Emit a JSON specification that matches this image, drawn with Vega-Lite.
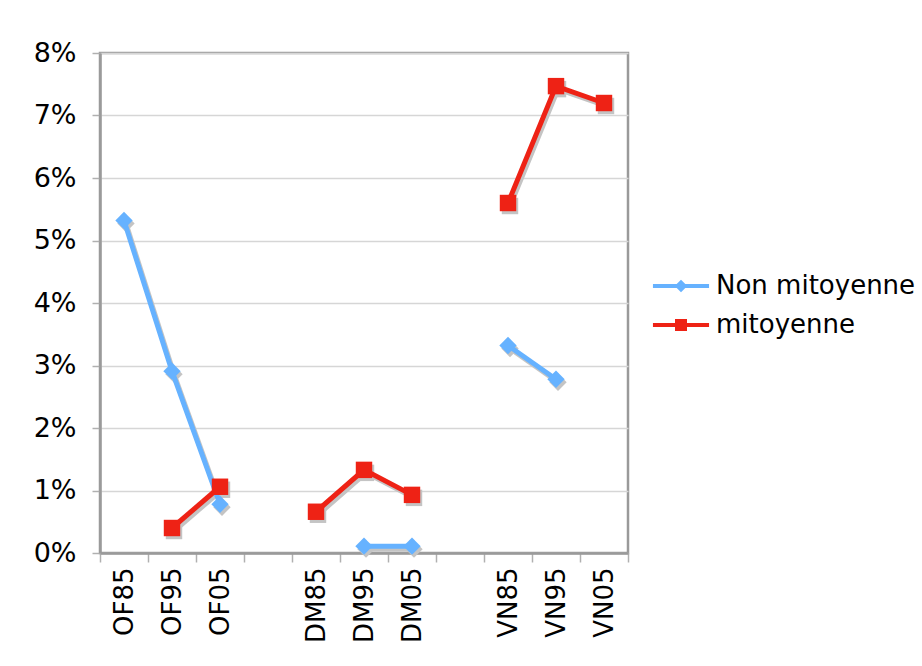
{
  "$schema": "https://vega.github.io/schema/vega-lite/v6.json",
  "width": 528,
  "height": 500,
  "autosize": {"type": "none"},
  "padding": {"left": 100, "top": 53, "right": 294, "bottom": 113},
  "background": "white",
  "config": {
    "font": "DejaVu Sans",
    "view": {"stroke": "#9a9a9a", "strokeWidth": 2.5}
  },
  "data": {
    "values": [
      {"cat": "OF85", "grp": "OF", "series": "Non mitoyenne", "value": 0.0532},
      {"cat": "OF95", "grp": "OF", "series": "Non mitoyenne", "value": 0.0291},
      {"cat": "OF05", "grp": "OF", "series": "Non mitoyenne", "value": 0.0078},
      {"cat": "DM95", "grp": "DM", "series": "Non mitoyenne", "value": 0.0011},
      {"cat": "DM05", "grp": "DM", "series": "Non mitoyenne", "value": 0.0011},
      {"cat": "VN85", "grp": "VN", "series": "Non mitoyenne", "value": 0.0332},
      {"cat": "VN95", "grp": "VN", "series": "Non mitoyenne", "value": 0.0278},
      {"cat": "OF95", "grp": "OF", "series": "mitoyenne", "value": 0.0040},
      {"cat": "OF05", "grp": "OF", "series": "mitoyenne", "value": 0.0106},
      {"cat": "DM85", "grp": "DM", "series": "mitoyenne", "value": 0.0066},
      {"cat": "DM95", "grp": "DM", "series": "mitoyenne", "value": 0.0133},
      {"cat": "DM05", "grp": "DM", "series": "mitoyenne", "value": 0.0093},
      {"cat": "VN85", "grp": "VN", "series": "mitoyenne", "value": 0.0560},
      {"cat": "VN95", "grp": "VN", "series": "mitoyenne", "value": 0.0747},
      {"cat": "VN05", "grp": "VN", "series": "mitoyenne", "value": 0.0720}
    ]
  },
  "encoding": {
    "x": {
      "field": "cat",
      "type": "nominal",
      "sort": ["OF85", "OF95", "OF05", "g1", "DM85", "DM95", "DM05", "g2", "VN85", "VN95", "VN05"],
      "bandPosition": 0.5,
      "scale": {
        "type": "band",
        "domain": ["OF85", "OF95", "OF05", "g1", "DM85", "DM95", "DM05", "g2", "VN85", "VN95", "VN05"],
        "paddingInner": 0,
        "paddingOuter": 0
      },
      "axis": {
        "title": null,
        "labelAngle": 270,
        "labelAlign": "right",
        "labelBaseline": "middle",
        "labelFontSize": 26,
        "labelColor": "black",
        "labelPadding": 5,
        "labelExpr": "datum.value == 'g1' || datum.value == 'g2' ? '' : datum.value",
        "tickBand": "extent",
        "tickSize": 9,
        "tickColor": "#b0b0b0",
        "tickWidth": 1.5,
        "domainColor": "#9a9a9a",
        "domainWidth": 2.5,
        "grid": false
      }
    },
    "y": {
      "field": "value",
      "type": "quantitative",
      "scale": {"domain": [0, 0.08]},
      "axis": {
        "title": null,
        "format": ".0%",
        "values": [0, 0.01, 0.02, 0.03, 0.04, 0.05, 0.06, 0.07, 0.08],
        "labelFontSize": 27,
        "labelColor": "black",
        "labelPadding": 16,
        "labelFlush": false,
        "tickSize": 8,
        "tickColor": "#b0b0b0",
        "tickWidth": 1.5,
        "gridColor": "#d6d6d6",
        "gridWidth": 1.5,
        "domainColor": "#9a9a9a",
        "domainWidth": 2.5
      }
    }
  },
  "layer": [
    {
      "mark": {"type": "line", "color": "#c4c4c4", "strokeWidth": 5, "xOffset": 2, "yOffset": 3},
      "encoding": {"detail": [{"field": "series"}, {"field": "grp"}]}
    },
    {
      "mark": {"type": "point", "filled": true, "opacity": 1, "color": "#c4c4c4", "xOffset": 2, "yOffset": 3},
      "encoding": {
        "shape": {"field": "series", "type": "nominal", "scale": {"domain": ["Non mitoyenne", "mitoyenne"], "range": ["diamond", "square"]}, "legend": null},
        "size": {"field": "series", "type": "nominal", "scale": {"domain": ["Non mitoyenne", "mitoyenne"], "range": [300, 270]}, "legend": null}
      }
    },
    {
      "mark": {"type": "line", "strokeWidth": 5},
      "encoding": {
        "color": {"field": "series", "type": "nominal", "scale": {"domain": ["Non mitoyenne", "mitoyenne"], "range": ["#66b2ff", "#ee2215"]}, "legend": null},
        "detail": {"field": "grp"}
      }
    },
    {
      "mark": {"type": "point", "filled": true, "opacity": 1},
      "encoding": {
        "color": {"field": "series", "type": "nominal", "legend": null},
        "shape": {"field": "series", "type": "nominal", "scale": {"domain": ["Non mitoyenne", "mitoyenne"], "range": ["diamond", "square"]}, "legend": null},
        "size": {"field": "series", "type": "nominal", "scale": {"domain": ["Non mitoyenne", "mitoyenne"], "range": [300, 270]}, "legend": null}
      }
    },
    {
      "transform": [{"filter": "datum.series == 'Non mitoyenne'"}],
      "mark": {"type": "point", "filled": true, "opacity": 0, "color": "#66b2ff"},
      "encoding": {
        "shape": {
          "field": "series",
          "type": "nominal",
          "scale": {
            "domain": ["Non mitoyenne"],
            "range": ["M-1.87,-0.14H1.87V0.14H-1.87Z M0,-0.42L0.42,0L0,0.42L-0.42,0Z"]
          },
          "legend": {
            "title": null,
            "orient": "none",
            "legendX": 566,
            "legendY": 218,
            "padding": 0,
            "symbolSize": 900,
            "symbolOpacity": 1,
            "symbolFillColor": "#66b2ff",
            "symbolStrokeWidth": 0,
            "labelOffset": 20,
            "labelFontSize": 26,
            "labelColor": "black",
            "labelLimit": 400
          }
        }
      }
    },
    {
      "transform": [{"filter": "datum.series == 'mitoyenne'"}],
      "mark": {"type": "point", "filled": true, "opacity": 0, "color": "#ee2215"},
      "encoding": {
        "shape": {
          "field": "series",
          "type": "nominal",
          "scale": {
            "domain": ["mitoyenne"],
            "range": ["M-1.87,-0.14H1.87V0.14H-1.87Z M-0.4,-0.4H0.4V0.4H-0.4Z"]
          },
          "legend": {
            "title": null,
            "orient": "none",
            "legendX": 566,
            "legendY": 257,
            "padding": 0,
            "symbolSize": 900,
            "symbolOpacity": 1,
            "symbolFillColor": "#ee2215",
            "symbolStrokeWidth": 0,
            "labelOffset": 20,
            "labelFontSize": 26,
            "labelColor": "black",
            "labelLimit": 400
          }
        }
      }
    }
  ],
  "resolve": {"scale": {"shape": "independent", "size": "independent"}}
}
